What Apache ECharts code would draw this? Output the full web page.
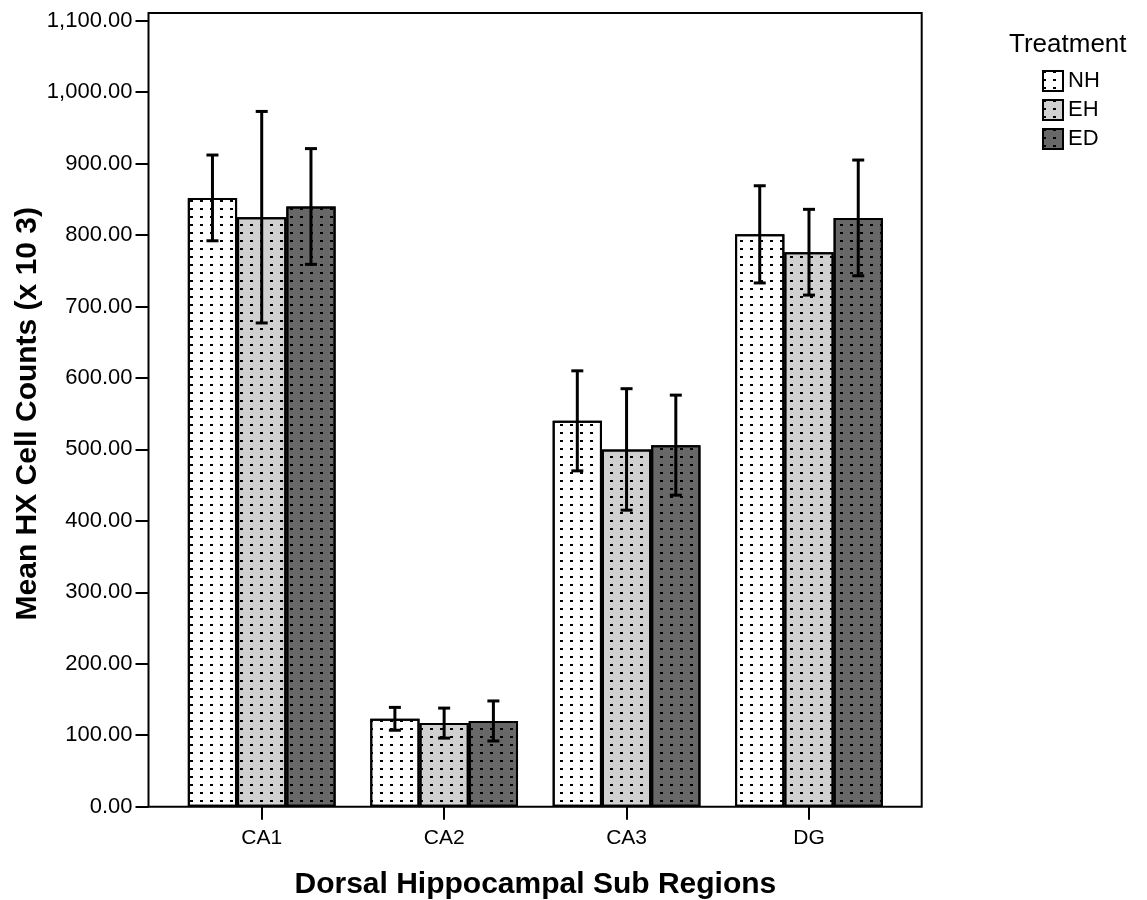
<!DOCTYPE html>
<html>
<head>
<meta charset="utf-8">
<script src="https://cdn.jsdelivr.net/npm/echarts@6/dist/echarts.min.js"></script>
<style>
  html, body { margin: 0; padding: 0; background: #fff; }
  #chart { width: 1147px; height: 900px; }
</style>
</head>
<body>
<div id="chart"></div>
<script>
// sub regions on the x axis
var regions = ['CA1', 'CA2', 'CA3', 'DG']
var treatments = ['NH', 'EH', 'ED']
// mean counts per treatment
var meanNH = [852, 123, 540, 801]
var meanEH = [825, 117, 500, 776]
var meanED = [840, 120, 506, 824]
// error bar half widths
var errNH = [60, 16, 70, 68]
var errEH = [148, 21, 85, 60]
var errED = [81, 28, 70, 81]
var yTicks = [0, 100, 200, 300, 400, 500, 600, 700, 800, 900, 1000, 1100]

var fills = ['#ffffff', '#d0d0d0', '#686868']
var means = [meanNH, meanEH, meanED]
var errs = [errNH, errEH, errED]
var BAR_FRAC = 0.27

function fmt(v) {
  var s = v.toFixed(2).split('.')
  return s[0].replace(/\B(?=(\d{3})+(?!\d))/g, ',') + '.' + s[1]
}

function dots() {
  return {
    symbol: 'rect',
    symbolSize: 1,
    color: '#000',
    dashArrayX: [3, 7],
    dashArrayY: [2, 6]
  }
}

var chart = echarts.init(document.getElementById('chart'))

var series = []
treatments.forEach(function (t, i) {
  series.push({
    name: t,
    type: 'bar',
    barWidth: (BAR_FRAC * 100) + '%',
    barGap: '0%',
    itemStyle: {
      color: fills[i],
      borderColor: '#000',
      borderWidth: 2,
      decal: dots()
    },
    data: means[i]
  })
})

// error bars
treatments.forEach(function (t, i) {
  series.push({
    type: 'custom',
    silent: true,
    z: 5,
    data: regions.map(function (r, k) {
      return [k, means[i][k] - errs[i][k], means[i][k] + errs[i][k]]
    }),
    renderItem: function (params, api) {
      var band = api.size([1, 0])[0]
      var bw = band * BAR_FRAC
      var lo = api.coord([api.value(0), api.value(1)])
      var hi = api.coord([api.value(0), api.value(2)])
      var x = lo[0] + (i - 1) * bw
      var cap = 6
      var st = { stroke: '#000', lineWidth: 3 }
      return {
        type: 'group',
        children: [
          { type: 'line', shape: { x1: x, y1: lo[1], x2: x, y2: hi[1] }, style: st },
          { type: 'line', shape: { x1: x - cap, y1: hi[1], x2: x + cap, y2: hi[1] }, style: st },
          { type: 'line', shape: { x1: x - cap, y1: lo[1], x2: x + cap, y2: lo[1] }, style: st }
        ]
      }
    }
  })
})

chart.setOption({
  animation: false,
  backgroundColor: '#fff',
  textStyle: { fontFamily: 'Liberation Sans, Arial, sans-serif' },
  title: {
    text: 'Treatment',
    left: 1009,
    top: 32,
    padding: 0,
    textStyle: { fontSize: 26, fontWeight: 'normal', color: '#000' }
  },
  legend: {
    orient: 'vertical',
    left: 1042,
    top: 70,
    padding: 0,
    itemWidth: 20,
    itemHeight: 20,
    itemGap: 7,
    icon: 'rect',
    selectedMode: false,
    textStyle: { fontSize: 22, color: '#000', fontFamily: 'Liberation Sans Narrow, Arial Narrow, sans-serif' },
    data: treatments
  },
  grid: [
    { left: 170.5, right: 246.8, top: 20.7, bottom: 93.3, containLabel: false, outerBoundsMode: 'none' },
    { left: 148.5, right: 225.3, top: 13, bottom: 93.3, show: true, borderColor: '#000', borderWidth: 2, z: 4, containLabel: false, outerBoundsMode: 'none' }
  ],
  xAxis: [{
    type: 'category',
    gridIndex: 0,
    data: regions,
    name: 'Dorsal Hippocampal Sub Regions',
    nameLocation: 'middle',
    nameGap: 63,
    nameMoveOverlap: false,
    nameTextStyle: { fontSize: 30, fontWeight: 'bold', color: '#000' },
    axisLine: { show: false },
    axisTick: { show: true, alignWithLabel: true, length: 13, lineStyle: { color: '#000', width: 2 } },
    axisLabel: { fontSize: 21, color: '#000', margin: 21 }
  }, {
    type: 'value', gridIndex: 1, show: false
  }],
  yAxis: [{
    type: 'value',
    gridIndex: 0,
    min: 0,
    max: 1100,
    interval: 100,
    offset: 22,
    name: 'Mean HX Cell Counts (x 10 3)',
    nameLocation: 'middle',
    nameGap: 106,
    nameMoveOverlap: false,
    nameTextStyle: { fontSize: 30, fontWeight: 'bold', color: '#000' },
    axisLine: { show: false },
    axisTick: { show: true, length: 13, lineStyle: { color: '#000', width: 2 } },
    axisLabel: {
      fontSize: 22,
      color: '#000',
      margin: 16,
      formatter: function (v) { return yTicks.indexOf(v) >= 0 ? fmt(v) : '' }
    },
    splitLine: { show: false }
  }, {
    type: 'value', gridIndex: 1, show: false
  }],
  series: series
})
</script>
</body>
</html>
